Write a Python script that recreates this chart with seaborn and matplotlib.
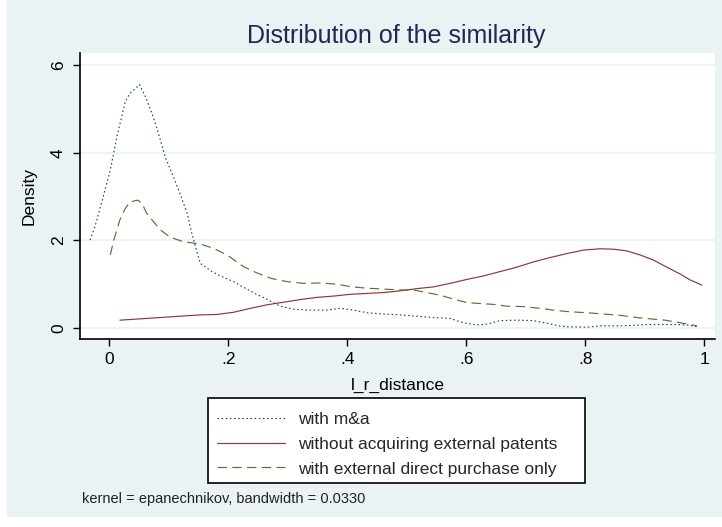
import pandas as pd
import seaborn as sns
import matplotlib.pyplot as plt
from matplotlib.patches import Rectangle

# density curves (kernel density, epanechnikov)
ma_x = [-0.032, -0.024, -0.010, 0.002, 0.013, 0.021, 0.027, 0.035, 0.044, 0.051,
        0.061, 0.072, 0.083, 0.094, 0.108, 0.119, 0.131, 0.139, 0.145, 0.153,
        0.170, 0.187, 0.209, 0.226, 0.245, 0.265, 0.287, 0.310, 0.338, 0.366,
        0.388, 0.411, 0.433, 0.461, 0.489, 0.517, 0.545, 0.573, 0.595, 0.618,
        0.635, 0.657, 0.685, 0.713, 0.736, 0.755, 0.769, 0.803, 0.825, 0.853,
        0.881, 0.904, 0.932, 0.954, 0.971, 0.988]
ma_y = [2.01, 2.31, 3.00, 3.61, 4.37, 4.82, 5.17, 5.36, 5.47, 5.56,
        5.28, 4.90, 4.44, 3.91, 3.45, 3.07, 2.62, 2.16, 1.86, 1.48,
        1.31, 1.19, 1.06, 0.93, 0.79, 0.66, 0.50, 0.43, 0.41, 0.41,
        0.45, 0.41, 0.35, 0.32, 0.30, 0.27, 0.24, 0.22, 0.12, 0.07,
        0.09, 0.17, 0.18, 0.17, 0.11, 0.05, 0.03, 0.02, 0.05, 0.05,
        0.06, 0.08, 0.08, 0.08, 0.07, 0.03]

noext_x = [0.018, 0.063, 0.119, 0.153, 0.181, 0.209, 0.237, 0.265, 0.293, 0.321,
           0.349, 0.377, 0.405, 0.433, 0.461, 0.489, 0.517, 0.545, 0.573, 0.601,
           0.629, 0.657, 0.685, 0.713, 0.741, 0.769, 0.797, 0.825, 0.848, 0.870,
           0.892, 0.915, 0.937, 0.960, 0.976, 0.996]
noext_y = [0.18, 0.22, 0.27, 0.30, 0.31, 0.36, 0.45, 0.53, 0.59, 0.65,
           0.70, 0.73, 0.77, 0.79, 0.81, 0.85, 0.90, 0.94, 1.02, 1.11,
           1.19, 1.29, 1.39, 1.51, 1.61, 1.70, 1.78, 1.81, 1.80, 1.76,
           1.67, 1.55, 1.39, 1.23, 1.10, 0.98]

buy_x = [0.002, 0.007, 0.018, 0.027, 0.035, 0.048, 0.055, 0.063, 0.072, 0.086,
         0.103, 0.125, 0.153, 0.175, 0.198, 0.226, 0.248, 0.273, 0.299, 0.327,
         0.355, 0.383, 0.408, 0.433, 0.461, 0.489, 0.511, 0.534, 0.556, 0.579,
         0.601, 0.624, 0.646, 0.668, 0.696, 0.724, 0.752, 0.775, 0.803, 0.831,
         0.859, 0.887, 0.909, 0.934, 0.960, 0.988]
buy_y = [1.67, 1.97, 2.47, 2.73, 2.88, 2.92, 2.85, 2.62, 2.47, 2.24,
         2.07, 1.97, 1.92, 1.82, 1.67, 1.40, 1.26, 1.13, 1.06, 1.02,
         1.03, 1.00, 0.94, 0.91, 0.89, 0.87, 0.87, 0.81, 0.75, 0.66,
         0.58, 0.56, 0.54, 0.50, 0.49, 0.45, 0.40, 0.37, 0.35, 0.32,
         0.29, 0.24, 0.21, 0.18, 0.12, 0.05]

labels = ["with m&a",
          "without acquiring external patents",
          "with external direct purchase only"]
x_ticks = [0, 0.2, 0.4, 0.6, 0.8, 1.0]
x_ticklabels = ["0", ".2", ".4", ".6", ".8", "1"]
y_ticks = [0, 2, 4, 6]
y_ticklabels = ["0", "2", "4", "6"]

df = pd.concat([
    pd.DataFrame({"l_r_distance": ma_x, "Density": ma_y, "group": labels[0]}),
    pd.DataFrame({"l_r_distance": noext_x, "Density": noext_y, "group": labels[1]}),
    pd.DataFrame({"l_r_distance": buy_x, "Density": buy_y, "group": labels[2]}),
], ignore_index=True)

sns.set_style("white")
plt.rcParams['font.family'] = ['Liberation Sans', 'DejaVu Sans']

bg = "#EAF2F3"
palette = {labels[0]: "#1A476F", labels[1]: "#90353B", labels[2]: "#55752F"}
dashes = {labels[0]: (1.3, 2.2), labels[1]: "", labels[2]: (8, 4.5)}

fig = plt.figure(figsize=(7.22, 5.27), dpi=100, facecolor="white")
# light graph region with thin white margin left/bottom
fig.patches.append(Rectangle((7 / 722, 10 / 527), 1, 1, transform=fig.transFigure,
                             facecolor=bg, edgecolor="none", zorder=-10))

ax = fig.add_axes([80 / 722, 1 - 339 / 527, 635 / 722, 286 / 527])
ax.set_facecolor("white")

sns.lineplot(data=df, x="l_r_distance", y="Density", hue="group", style="group",
             palette=palette, dashes=dashes, estimator=None, sort=False,
             linewidth=0.85, legend=False, ax=ax)

ax.set_xlim(-0.049, 1.018)
ax.set_ylim(-0.25, 6.28)
ax.set_xticks(x_ticks)
ax.set_xticklabels(x_ticklabels)
ax.set_yticks(y_ticks)
ax.set_yticklabels(y_ticklabels, rotation=90, va="center")
ax.tick_params(direction="out", length=5, width=1, colors="black",
               labelsize=12.5, left=True, bottom=True)
ax.tick_params(axis="y", pad=5)
ax.tick_params(axis="x", pad=4)
ax.grid(axis="y", color=bg, linewidth=1.2)
ax.set_axisbelow(True)
for side in ["top", "right"]:
    ax.spines[side].set_visible(False)
for side in ["left", "bottom"]:
    ax.spines[side].set_color("black")
    ax.spines[side].set_linewidth(1.2)

ax.set_xlabel("l_r_distance", fontsize=12.5, color="black")
ax.set_ylabel("Density", fontsize=12.5, color="black")
ax.xaxis.set_label_coords(0.5, -0.135)
ax.yaxis.set_label_coords(-0.068, 0.5)

fig.text(396.5 / 722, 1 - 43 / 527, "Distribution of the similarity",
         ha="center", va="baseline", fontsize=18, color="#1E2A50")

# legend box drawn by hand, entries placed inside it
fig.patches.append(Rectangle((208 / 722, 1 - 483 / 527), 377 / 722, 85 / 527,
                             transform=fig.transFigure, facecolor="white",
                             edgecolor="black", linewidth=1.2, zorder=5))
leg = fig.legend(ax.get_lines()[:3], labels, loc="upper left",
                 bbox_to_anchor=(217 / 722, 1 - 412 / 527), frameon=False,
                 fontsize=12.5, handlelength=3.9, handletextpad=0.75,
                 labelspacing=0.55, borderpad=0, borderaxespad=0)
leg.set_zorder(6)

fig.text(82 / 722, 1 - 499 / 527, "kernel = epanechnikov, bandwidth = 0.0330",
         ha="left", va="center", fontsize=10.5, color="#222222")

fig.savefig("out.png", dpi=100)
